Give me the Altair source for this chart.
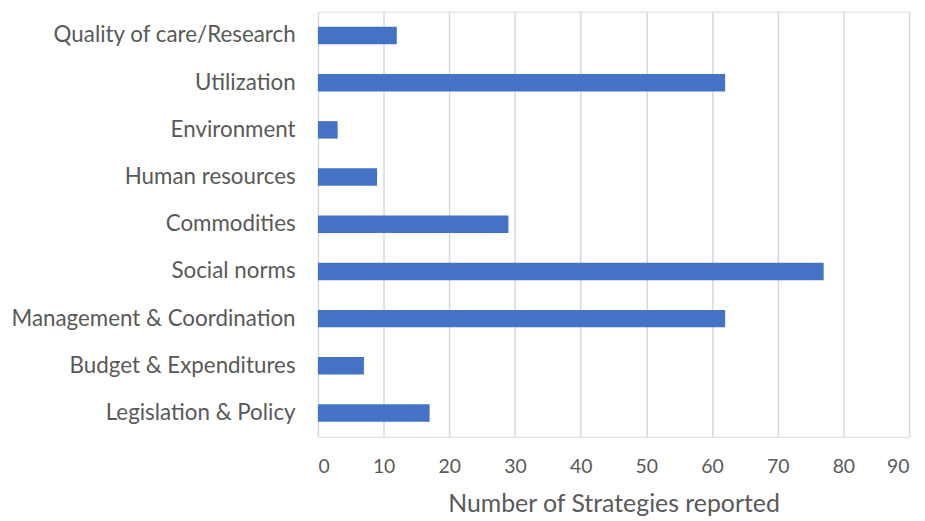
import altair as alt
import pandas as pd

categories = [
    "Quality of care/Research",
    "Utilization",
    "Environment",
    "Human resources",
    "Commodities",
    "Social norms",
    "Management & Coordination",
    "Budget & Expenditures",
    "Legislation & Policy",
]
values = [12, 62, 3, 9, 29, 77, 62, 7, 17]
x_ticks = [0, 10, 20, 30, 40, 50, 60, 70, 80, 90]

df = pd.DataFrame({"category": categories, "value": values})

FONT = "Lato"
GRAY = "#595959"

chart = (
    alt.Chart(df)
    .mark_bar(color="#4472C4")
    .encode(
        x=alt.X(
            "value:Q",
            scale=alt.Scale(domain=[0, 90], nice=False),
            axis=alt.Axis(
                values=x_ticks,
                title="Number of Strategies reported",
                titleFontSize=25,
                titleFontWeight="normal",
                titleColor=GRAY,
                titleFont=FONT,
                titlePadding=16,
                labelFontSize=19.5,
                labelColor=GRAY,
                labelFont=FONT,
                labelPadding=21,
                domain=False,
                ticks=False,
                grid=True,
                gridColor="#D9D9D9",
                gridWidth=1.5,
            ),
        ),
        y=alt.Y(
            "category:N",
            sort=categories,
            scale=alt.Scale(paddingInner=0.63, paddingOuter=0.32),
            axis=alt.Axis(
                title=None,
                labelFontSize=22.5,
                labelColor=GRAY,
                labelFont=FONT,
                labelPadding=23,
                labelLimit=400,
                domain=False,
                ticks=False,
                grid=False,
            ),
        ),
    )
    .properties(
        width=595,
        height=428,
        autosize=alt.AutoSizeParams(type="none"),
        padding={"left": 312, "top": 2, "right": 8, "bottom": 80},
    )
    .configure_view(stroke=None)
    .configure(background="white")
)

chart.save("out.html", embed_options={"renderer": "svg", "actions": False})
